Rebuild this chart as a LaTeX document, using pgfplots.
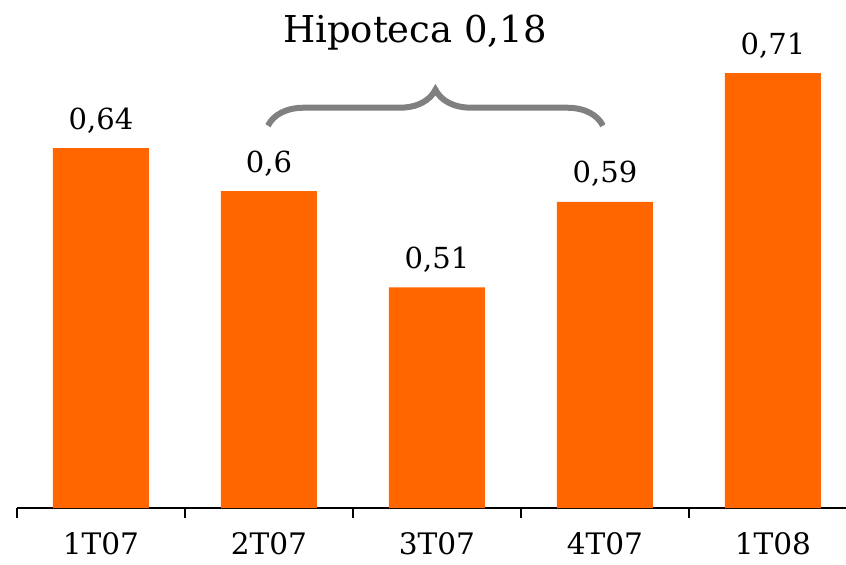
\documentclass[border=0pt]{standalone}
\usepackage{pgfplots}
\pgfplotsset{compat=1.18}
\usepackage{pgfplotstable}
\usepackage{fontspec}
\setmainfont{DejaVu Serif}
\usetikzlibrary{decorations.pathreplacing}
\definecolor{barorange}{RGB}{255,102,0}
\definecolor{bracegray}{RGB}{128,128,128}
\pgfplotstableread{
x y lbl
0 0.64 0,64
1 0.60 0,6
2 0.51 0,51
3 0.59 0,59
4 0.71 0,71
}\datatable
\begin{document}
\begin{tikzpicture}
\begin{axis}[
  scale only axis,
  x=84pt, y=535.5pt,
  xmin=-0.5, xmax=4.435,
  ymin=0.304, ymax=0.7784,
  axis x line*=bottom,
  axis y line=none,
  xtick={0,1,2,3,4},
  xticklabels={1T07,2T07,3T07,4T07,1T08},
  minor xtick={-0.5,0.5,1.5,2.5,3.5},
  major tick length=0pt,
  minor tick length=5pt,
  tick align=outside,
  tick style={black, line width=0.6pt},
  axis line style={black, line width=0.6pt, -},
  xticklabel style={font=\fontsize{14.8}{16}\selectfont, yshift=-11pt, inner sep=1pt},
  ybar, bar width=48pt,
  nodes near coords,
  point meta=explicit symbolic,
  nodes near coords style={font=\fontsize{14.5}{16}\selectfont, text=black, yshift=4pt},
  /pgf/number format/assume math mode=true,
]
\addplot[fill=barorange, draw=none] table[x=x, y=y, meta=lbl] {\datatable};
\coordinate (bl) at (axis cs:-0.601,0.2509);
\coordinate (tr) at (axis cs:4.435,0.7784);
\node[font=\fontsize{18.5}{20}\selectfont, text=black] at (axis cs:1.869,0.7475) {Hipoteca 0,18};
\draw[bracegray, line width=3pt, decorate, decoration={brace, amplitude=18pt}]
  (axis cs:0.994,0.661) -- (axis cs:2.988,0.661);
\end{axis}
\pgfresetboundingbox
\path[use as bounding box] (bl) rectangle (tr);
\end{tikzpicture}
\end{document}
